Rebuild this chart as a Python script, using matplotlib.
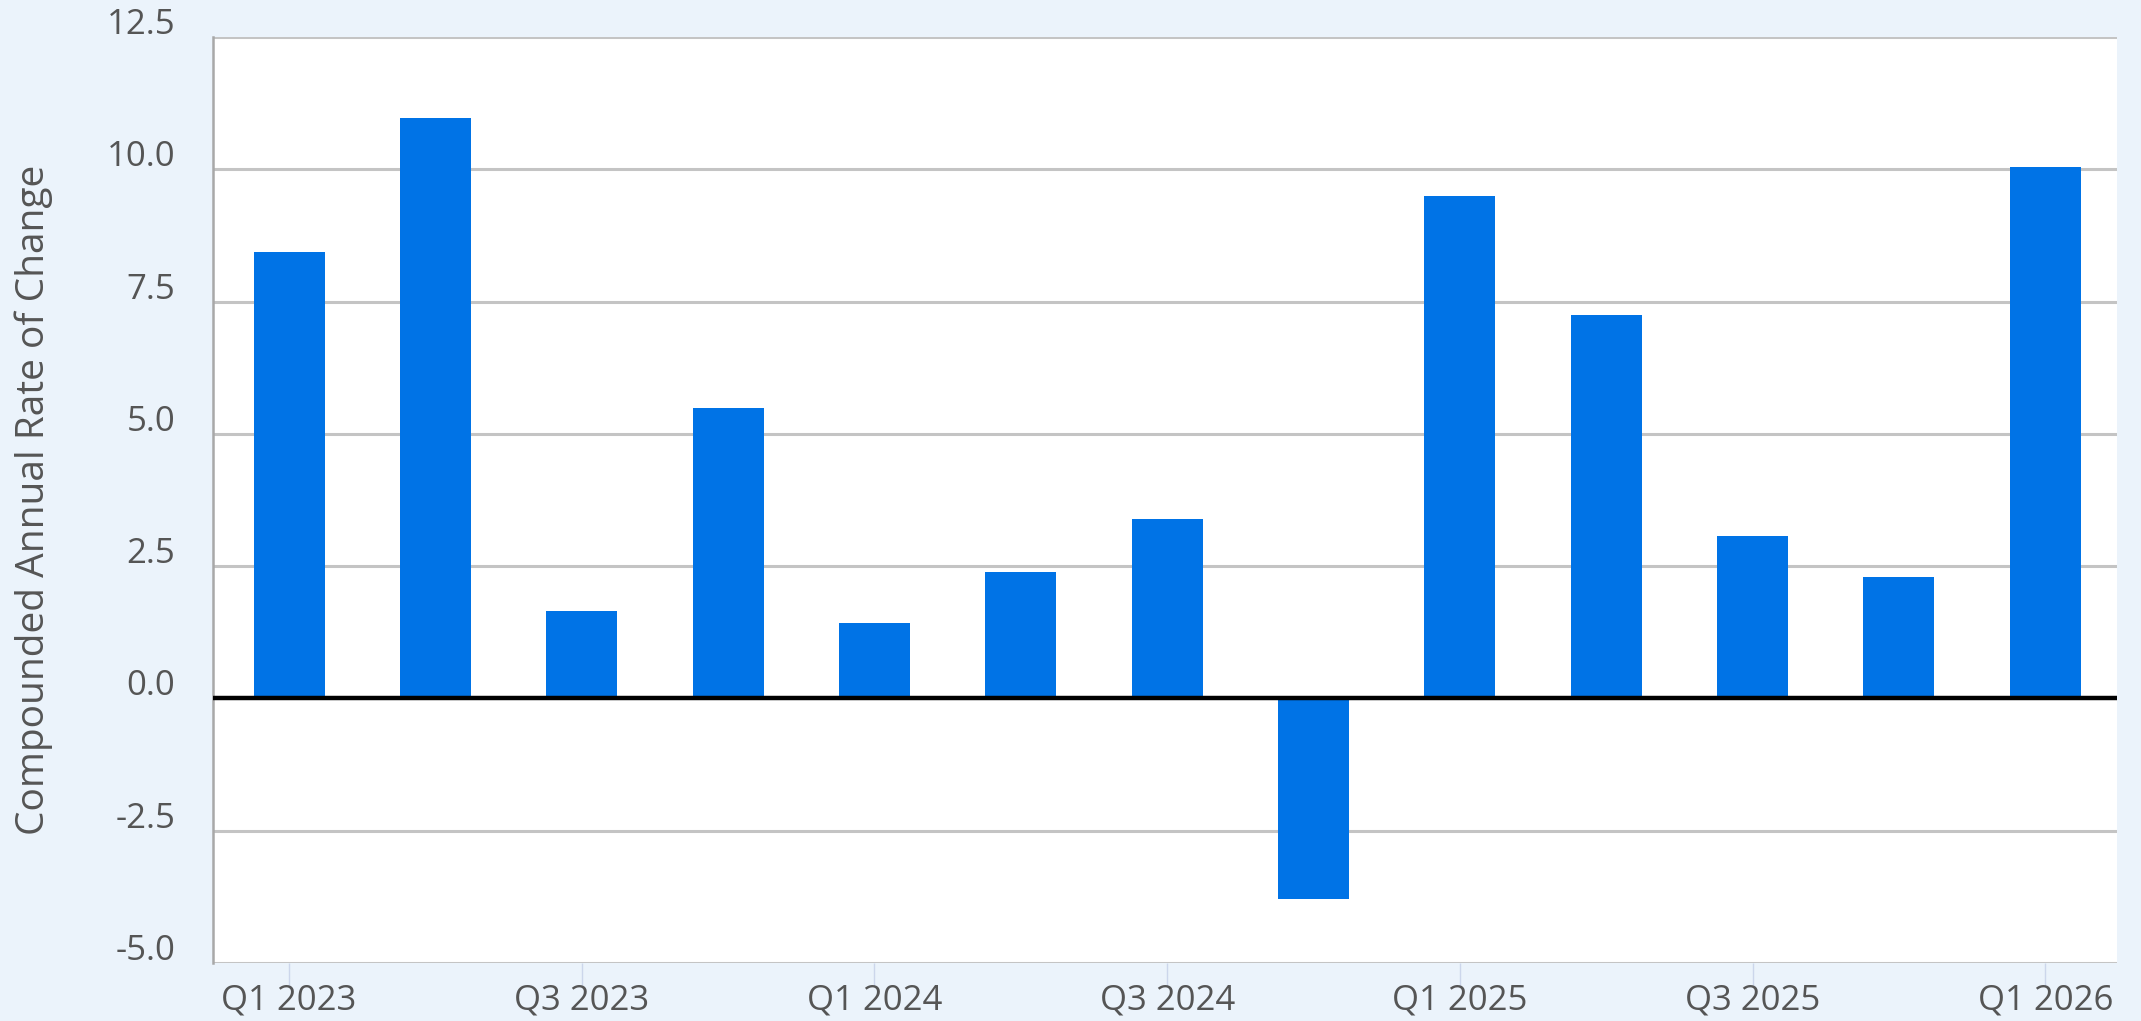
import matplotlib.pyplot as plt
import matplotlib.transforms as mtransforms
import numpy as np

quarters = ["Q1 2023", "Q2 2023", "Q3 2023", "Q4 2023",
            "Q1 2024", "Q2 2024", "Q3 2024", "Q4 2024",
            "Q1 2025", "Q2 2025", "Q3 2025", "Q4 2025", "Q1 2026"]
values = [8.43, 10.97, 1.65, 5.48, 1.42, 2.38, 3.39, -3.79,
          9.50, 7.24, 3.07, 2.30, 10.04]
yticks = [-5.0, -2.5, 0.0, 2.5, 5.0, 7.5, 10.0, 12.5]

plt.rcParams["font.family"] = ["Open Sans", "DejaVu Sans"]

bg = "#ebf3fb"
fig = plt.figure(figsize=(21.41, 10.21), dpi=100, facecolor=bg)
ax = fig.add_axes([213 / 2141, 1 - 963 / 1021, (2117 - 213) / 2141, (963 - 37) / 1021])
ax.set_facecolor("white")

x = np.arange(len(quarters))
ax.bar(x, values, width=0.485, color="#0073e6", zorder=3)

ax.set_xlim(-0.52, 12.49)
ax.set_ylim(-5.0, 12.5)

ax.set_yticks(yticks)
ax.set_yticklabels([f"{v:.1f}" for v in yticks])
for v in yticks:
    if v == 0:
        ax.axhline(v, color="black", lw=3.2, zorder=4)
    else:
        ax.axhline(v, color="#c4c4c4", lw=2.2, zorder=1)

ax.set_xticks(x[::2])
ax.set_xticklabels(quarters[::2])

for s in ["top", "right", "bottom"]:
    ax.spines[s].set_visible(False)
ax.spines["left"].set_color("#a8a8a8")
ax.spines["left"].set_linewidth(1.8)

ax.tick_params(axis="y", length=0, pad=27, labelsize=25, labelcolor="#555555")
ax.tick_params(axis="x", length=16.5, width=1.0, color="#ccd6eb", pad=-2,
               labelsize=25, labelcolor="#555555")

off = mtransforms.ScaledTranslation(0, 16 / 100, fig.dpi_scale_trans)
for lab in ax.get_yticklabels():
    lab.set_transform(lab.get_transform() + off)

fig.text(34 / 2141, 1 - 500 / 1021, "Compounded Annual Rate of Change",
         rotation=90, ha="center", va="center", fontsize=28, color="#555555")

plt.savefig("out.png", dpi=100, facecolor=bg)
